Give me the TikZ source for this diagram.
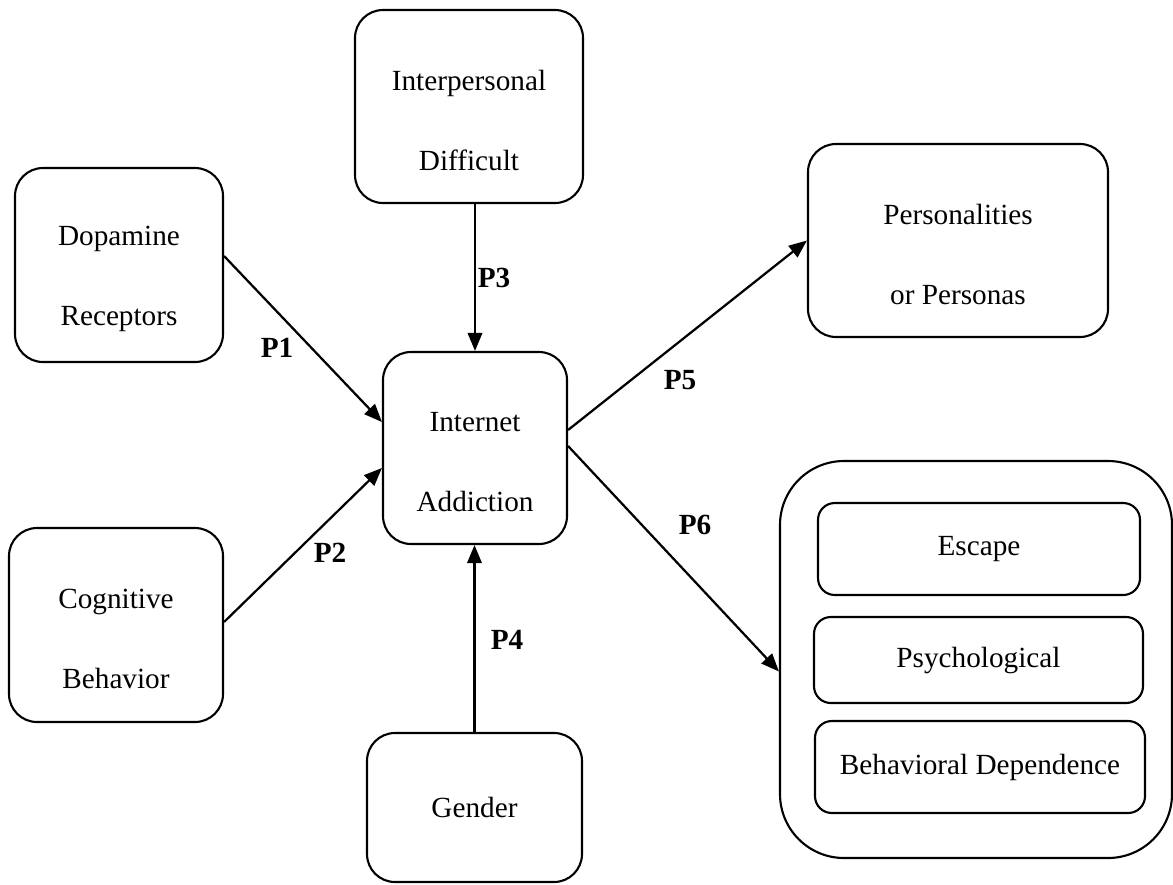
\documentclass[tikz,border=0pt]{standalone}
\usepackage{fontspec}
\setmainfont{Liberation Serif}
\usetikzlibrary{arrows.meta}
\newcommand{\toppad}{\rule{0pt}{1.2cm}}

\begin{document}
\begin{tikzpicture}[
    box/.style={draw, line width=1.5pt, rounded corners=0.7cm, align=center, font=\fontsize{20.8}{57}\selectfont},
    inbox/.style={draw, line width=1.5pt, rounded corners=0.42cm, font=\fontsize{20.8}{25}\selectfont},
    plabel/.style={font=\fontsize{20.8}{25}\selectfont\bfseries},
    link/.style={line width=1.6pt, -{Triangle[length=0.45cm,width=0.36cm]}}
  ]
  \useasboundingbox (0,0) rectangle (29.325,-22.1);
  % factors
  \node[box, minimum width=5.7cm, minimum height=4.825cm] (inter) at (11.725,-2.6625) {\toppad Interpersonal\\Difficult};
  \node[box, minimum width=5.2cm, minimum height=4.85cm] (dop) at (2.975,-6.625) {\toppad Dopamine\\Receptors};
  \node[box, minimum width=5.35cm, minimum height=4.85cm] (cog) at (2.9,-15.625) {\toppad Cognitive\\Behavior};
  \node[box, minimum width=4.6cm, minimum height=4.8cm] (net) at (11.875,-11.2) {\toppad Internet\\Addiction};
  \node[box, minimum width=5.375cm, minimum height=3.725cm] (gen) at (11.8625,-20.1875) {Gender};
  \node[box, minimum width=7.5cm, minimum height=4.825cm] (pers) at (23.95,-6.0125) {\toppad Personalities\\or Personas};
  % outcome group
  \node[box, rounded corners=1.6cm, minimum width=9.8cm, minimum height=9.925cm] (grp) at (24.4,-16.4875) {};
  \node[inbox, minimum width=8.05cm, minimum height=2.3cm] (esc) at (24.475,-13.725) {Escape};
  \node[inbox, minimum width=8.225cm, minimum height=2.15cm] (psy) at (24.4625,-16.5) {Psychological};
  \node[inbox, minimum width=8.25cm, minimum height=2.3cm] (beh) at (24.5,-19.175) {Behavioral Dependence};
  % paths
  \draw[link] ([yshift=0.225cm]dop.east) -- ([yshift=0.65cm]net.west);
  \draw[link] ([yshift=0.075cm]cog.east) -- ([yshift=-0.5cm]net.west);
  \draw[link] (net.north |- inter.south) -- (net.north);
  \draw[link] (gen.north) -- (gen.north |- net.south);
  \draw[link] ([yshift=0.45cm]net.east) -- (pers.west);
  \draw[link] ([yshift=0.05cm]net.east) -- ([yshift=-0.3cm]grp.west);
  \node[plabel] (p1) at (6.925,-8.7) {P1};
  \node[plabel] (p2) at (8.25,-13.825) {P2};
  \node[plabel] (p3) at (12.35,-6.95) {P3};
  \node[plabel] (p4) at (12.675,-16.0) {P4};
  \node[plabel] (p5) at (17.0,-9.5) {P5};
  \node[plabel] (p6) at (17.375,-13.125) {P6};
\end{tikzpicture}
\end{document}
